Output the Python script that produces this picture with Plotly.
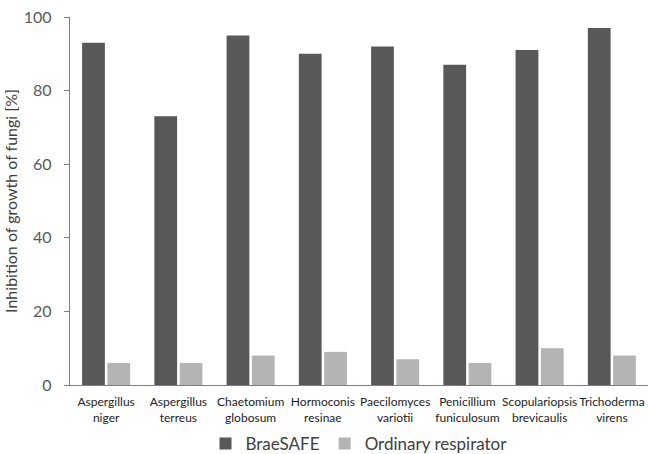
import plotly.graph_objects as go

categories = ["Aspergillus<br>niger", "Aspergillus<br>terreus", "Chaetomium<br>globosum",
              "Hormoconis<br>resinae", "Paecilomyces<br>variotii", "Penicillium<br>funiculosum",
              "Scopulariopsis<br>brevicaulis", "Trichoderma<br>virens"]
braesafe = [93, 73, 95, 90, 92, 87, 91, 97]
ordinary = [6, 6, 8, 9, 7, 6, 10, 8]
y_ticks = [0, 20, 40, 60, 80, 100]

fig = go.Figure()
fig.add_trace(go.Bar(x=categories, y=braesafe, name="BraeSAFE",
                     marker=dict(color="#585858", line=dict(width=0))))
fig.add_trace(go.Bar(x=categories, y=ordinary, name="Ordinary respirator",
                     marker=dict(color="#b4b4b4", line=dict(width=0))))

fig.update_layout(
    width=648, height=454,
    margin=dict(l=70, r=0, t=17, b=69, autoexpand=False),
    paper_bgcolor="white", plot_bgcolor="white",
    barmode="group", bargap=0.3, bargroupgap=0.1,
    font=dict(family="Lato, Open Sans, sans-serif", color="#333333"),
    showlegend=True,
    legend=dict(orientation="h", x=0.5, xanchor="center", y=-0.16, yanchor="middle",
                font=dict(size=17, color="#404040"), itemwidth=30, traceorder="normal"),
)
fig.update_xaxes(
    range=[-0.5, 7.5], showline=True, linecolor="#7f7f7f", linewidth=1, automargin=False,
    ticks="", tickangle=0, ticklabelstandoff=6, tickfont=dict(size=12, color="#222222"),
    showgrid=False,
)
fig.update_yaxes(
    range=[0, 100], tickvals=y_ticks, ticktext=[f"{v}\u2007" for v in y_ticks],
    showline=True, linecolor="#7f7f7f", linewidth=1,
    ticks="outside", ticklen=5, tickcolor="#7f7f7f", showgrid=False, zeroline=False,
    automargin=True,
    tickfont=dict(size=16, color="#595959"),
    title=dict(text="Inhibition of growth of fungi [%]", font=dict(size=16, color="#404040"), standoff=2),
)
fig.write_html("out.html", config={"displayModeBar": False},
               post_script="document.body.style.margin='0';document.body.style.overflow='hidden';")
